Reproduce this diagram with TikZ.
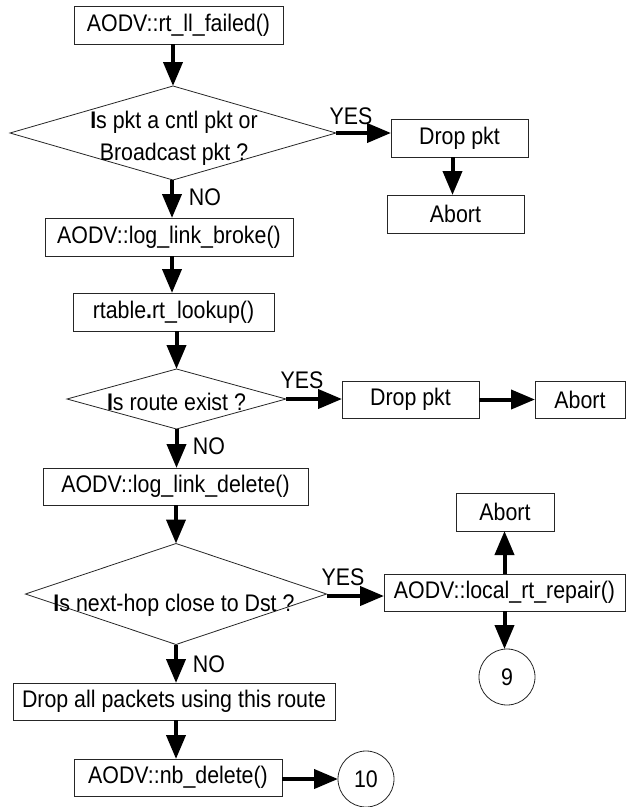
\documentclass[tikz,border=0pt]{standalone}
\usepackage{fontspec}
\setmainfont{Liberation Sans}[FakeStretch=0.89]
\usetikzlibrary{shapes.geometric,arrows.meta}
\begin{document}
\begin{tikzpicture}[x=1pt,y=-1pt,
  every node/.style={font=\fontsize{24}{28}\selectfont, inner sep=0pt, outer sep=0pt},
  procbox/.style={draw=black!85, line width=0.8pt, rectangle, minimum height=38pt},
  decbox/.style={draw=black!85, line width=0.8pt, diamond},
  termc/.style={draw=black!85, line width=0.8pt, circle, minimum size=56pt},
  lbl/.style={},
  flow/.style={line width=4pt, -{Triangle[length=24pt,width=19pt]}}
]
\useasboundingbox (0,0) rectangle (626,807);

% nodes
\node[procbox, minimum width=209pt] (b1) at (178.5,25) {AODV::rt\_ll\_failed()};
\node[decbox, minimum width=326pt, minimum height=94pt] (d1) at (173,133) {};
\node[align=center, font=\fontsize{24}{32}\selectfont] (t1) at (174,138) {\textbf{I}s pkt a cntl pkt or\\Broadcast pkt ?};
\node[lbl] (y1) at (351,116) {YES};
\node[procbox, minimum width=137pt] (drop1) at (459.5,138) {Drop pkt};
\node[procbox, minimum width=137pt] (abort1) at (455.5,214) {Abort};
\node[lbl] (n1) at (205,197) {NO};
\node[procbox, minimum width=248pt] (b2) at (169,237) {AODV::log\_link\_broke()};
\node[procbox, minimum width=201pt] (b3) at (173.5,312) {rtable{\bfseries.}rt\_lookup()};
\node[decbox, minimum width=219pt, minimum height=60pt] (d2) at (176.5,399) {};
\node (t2) at (176.5,402) {\textbf{I}s route exist ?};
\node[lbl] (y2) at (302,380) {YES};
\node[procbox, minimum width=137pt, minimum height=37pt] (drop2) at (410.5,399.5) {Drop pkt};
\node[procbox, minimum width=90pt, minimum height=37pt] (abort2) at (580,399.5) {Abort};
\node[lbl] (n2) at (209,446) {NO};
\node[procbox, minimum width=265pt, minimum height=37pt] (b4) at (175.5,486.5) {AODV::log\_link\_delete()};
\node[procbox, minimum width=98pt] (abort3) at (505,512) {Abort};
\node[decbox, minimum width=301pt, minimum height=101pt] (d3) at (176,594) {};
\node (t3) at (174,605) {\textbf{I}s next-hop close to Dst ?};
\node[lbl] (y3) at (343,577) {YES};
\node[procbox, minimum width=241pt, minimum height=37pt] (rep) at (504.5,592.5) {AODV::local\_rt\_repair()};
\node[termc] (c9) at (507,677) {9};
\node[lbl] (n3) at (209,664) {NO};
\node[procbox, minimum width=322pt, minimum height=37pt] (b5) at (174,701.5) {Drop all packets using this route};
\node[procbox, minimum width=208pt, minimum height=37pt] (b6) at (178,777.5) {AODV::nb\_delete()};
\node[termc] (c10) at (366,779) {10};

% connectors
\draw[flow] (b1.south -| d1.north) -- (d1.north);
\draw[flow] (d1.east) -- (d1.east -| drop1.west);
\draw[flow] ([xshift=-7pt]drop1.south) -- ([xshift=-7pt]drop1.south |- abort1.north);
\draw[flow] ([xshift=-1pt]d1.south) -- ([xshift=-1pt]d1.south |- b2.north);
\draw[flow] ([xshift=3pt]b2.south) -- ([xshift=3pt]b2.south |- b3.north);
\draw[flow] (b3.south -| d2.north) -- (d2.north);
\draw[flow] (d2.east) -- (d2.east -| drop2.west);
\draw[flow] (drop2.east) -- (abort2.west);
\draw[flow] (d2.south) -- (d2.south |- b4.north);
\draw[flow] (b4.south -| d3.north) -- (d3.north);
\draw[flow] ([yshift=-2pt]d3.east) -- ([yshift=-2pt]d3.east -| rep.west);
\draw[flow] (rep.north) -- (rep.north |- abort3.south);
\draw[flow] (rep.south) -- (rep.south |- c9.north);
\draw[flow] (d3.south) -- (d3.south |- b5.north);
\draw[flow] (b5.south -| d3.south) -- (d3.south |- b6.north);
\draw[flow] (b6.east |- c10.west) -- (c10.west);
\end{tikzpicture}
\end{document}
